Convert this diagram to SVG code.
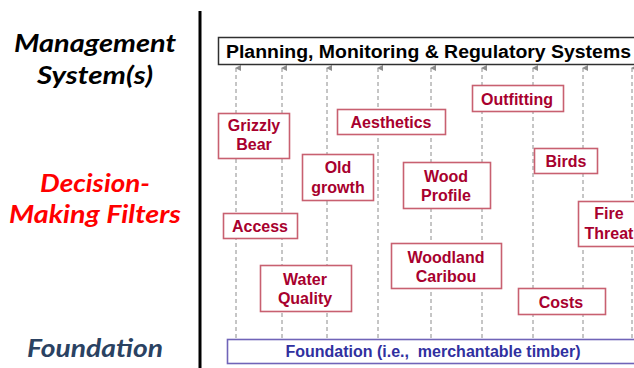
<svg xmlns="http://www.w3.org/2000/svg" width="634" height="368" viewBox="0 0 634 368">
  <style>
    .side { font-family: Lato, "Open Sans", sans-serif; font-weight: bold; font-style: italic; font-size: 25px; text-anchor: middle; }
    .flt rect { fill: #ffffff; stroke: #c86070; stroke-width: 1.6; }
    .flt text { font-family: "Liberation Sans", Arial, sans-serif; font-weight: bold; font-size: 16px; fill: #a8002e; text-anchor: middle; }
    .link { stroke: #8c8c8c; stroke-width: 1; stroke-dasharray: 4 3; fill: none; marker-end: url(#tip); }
  </style>
  <defs>
    <marker id="tip" viewBox="0 0 6 6" refX="3" refY="1" markerWidth="6" markerHeight="6" orient="auto" markerUnits="userSpaceOnUse">
      <path d="M0,6 L3,0 L6,6 Z" fill="#8c8c8c"/>
    </marker>
  </defs>

  <rect x="0" y="0" width="634" height="368" fill="#ffffff"/>

  <!-- left-hand level labels -->
  <g id="labels">
    <text class="side" x="95" y="52" fill="#000000" textLength="162" lengthAdjust="spacingAndGlyphs">Management</text>
    <text class="side" x="95" y="84" fill="#000000" textLength="116" lengthAdjust="spacingAndGlyphs">System(s)</text>
    <text class="side" x="95" y="192" fill="#ff0000" textLength="110" lengthAdjust="spacingAndGlyphs">Decision-</text>
    <text class="side" x="95" y="223" fill="#ff0000" textLength="172" lengthAdjust="spacingAndGlyphs">Making Filters</text>
    <text class="side" x="95" y="357" fill="#2a4262" textLength="136" lengthAdjust="spacingAndGlyphs">Foundation</text>
  </g>

  <!-- divider -->
  <line x1="200" y1="11" x2="200" y2="368" stroke="#000000" stroke-width="3"/>

  <!-- vertical links from foundation up to the management systems -->
  <g id="connectors">
    <line class="link" x1="236" y1="338" x2="236" y2="68"/>
    <line class="link" x1="282" y1="338" x2="282" y2="68"/>
    <line class="link" x1="327" y1="338" x2="327" y2="68"/>
    <line class="link" x1="378" y1="338" x2="378" y2="68"/>
    <line class="link" x1="431" y1="338" x2="431" y2="68"/>
    <line class="link" x1="482" y1="338" x2="482" y2="68"/>
    <line class="link" x1="533" y1="338" x2="533" y2="68"/>
    <line class="link" x1="583" y1="338" x2="583" y2="68"/>
    <line class="link" x1="632" y1="338" x2="632" y2="68"/>
  </g>

  <g id="systems">
    <rect x="218.5" y="37.5" width="420" height="27" fill="#ffffff" stroke="#303030" stroke-width="1.5"/>
    <text x="226" y="58" font-family="'Liberation Sans', Arial, sans-serif" font-weight="bold" font-size="18" fill="#000000" textLength="405" lengthAdjust="spacingAndGlyphs">Planning, Monitoring &amp; Regulatory Systems</text>
  </g>

  <g id="grizzly-bear" class="flt">
    <rect x="218.5" y="113.5" width="71" height="45"/>
    <text x="254" y="131">Grizzly</text>
    <text x="254" y="150">Bear</text>
  </g>
  <g id="aesthetics" class="flt">
    <rect x="337.5" y="109.5" width="108" height="25"/>
    <text x="391" y="128">Aesthetics</text>
  </g>
  <g id="outfitting" class="flt">
    <rect x="472.5" y="85.5" width="91" height="26"/>
    <text x="517" y="105">Outfitting</text>
  </g>
  <g id="old-growth" class="flt">
    <rect x="302.5" y="154.5" width="71" height="46"/>
    <text x="338" y="173">Old</text>
    <text x="338" y="193">growth</text>
  </g>
  <g id="birds" class="flt">
    <rect x="534.5" y="148.5" width="63" height="25"/>
    <text x="566" y="167">Birds</text>
  </g>
  <g id="wood-profile" class="flt">
    <rect x="403.5" y="162.5" width="87" height="46"/>
    <text x="446" y="182">Wood</text>
    <text x="446" y="201">Profile</text>
  </g>
  <g id="fire-threat" class="flt">
    <rect x="578.5" y="201.5" width="70" height="45"/>
    <text x="609" y="219">Fire</text>
    <text x="609" y="239">Threat</text>
  </g>
  <g id="access" class="flt">
    <rect x="223.5" y="213.5" width="74" height="25"/>
    <text x="260" y="232">Access</text>
  </g>
  <g id="woodland-caribou" class="flt">
    <rect x="391.5" y="243.5" width="110" height="45"/>
    <text x="446" y="263">Woodland</text>
    <text x="446" y="282">Caribou</text>
  </g>
  <g id="water-quality" class="flt">
    <rect x="260.5" y="265.5" width="91" height="46"/>
    <text x="305" y="285">Water</text>
    <text x="305" y="304">Quality</text>
  </g>
  <g id="costs" class="flt">
    <rect x="518.5" y="288.5" width="87" height="26"/>
    <text x="561" y="308">Costs</text>
  </g>

  <g id="foundation">
    <rect x="227.5" y="339.5" width="420" height="24" fill="#ffffff" stroke="#7064b8" stroke-width="1.6"/>
    <text x="433" y="357" font-family="'Liberation Sans', Arial, sans-serif" font-weight="bold" font-size="16" fill="#3030a0" text-anchor="middle" xml:space="preserve">Foundation (i.e.,  merchantable timber)</text>
  </g>
</svg>
